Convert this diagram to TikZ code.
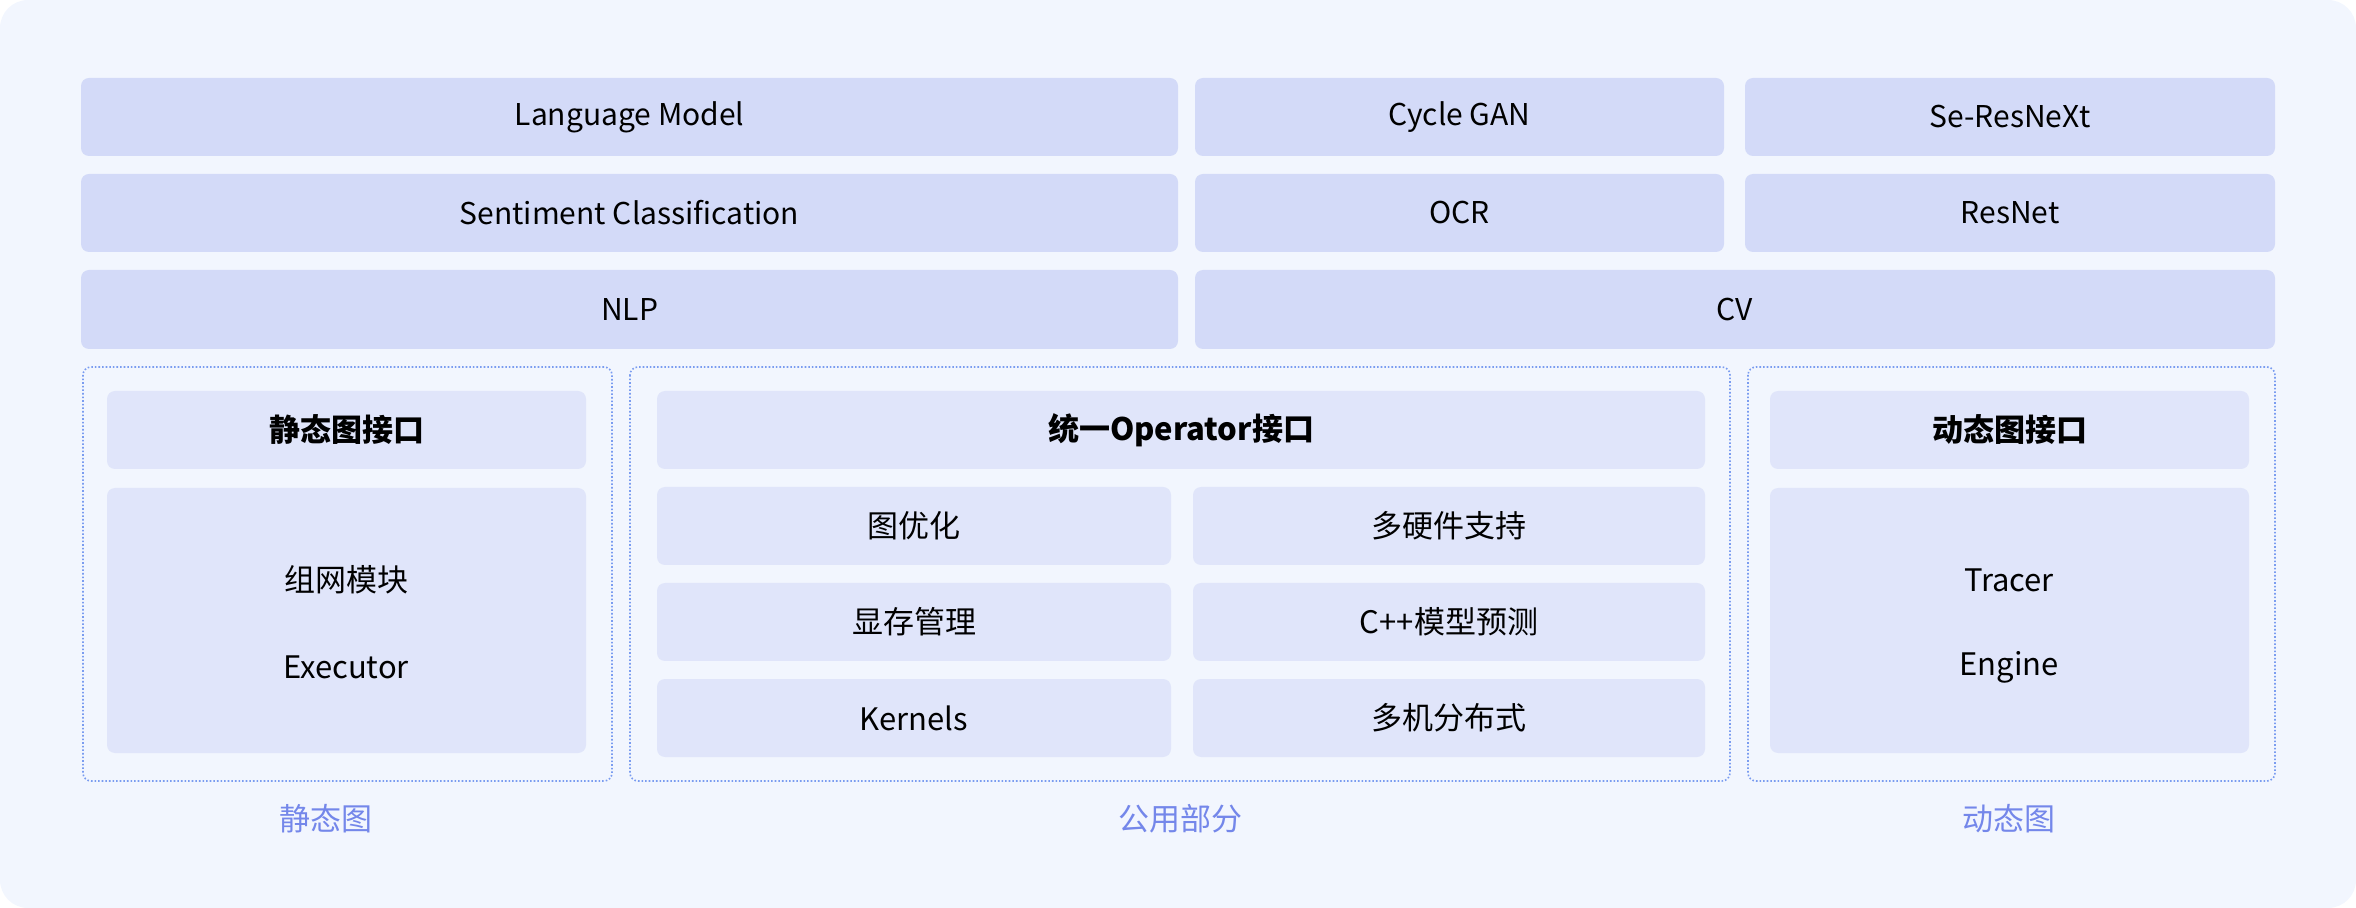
\documentclass[tikz,border=0pt]{standalone}
\usepackage{fontspec}
\setmainfont{Noto Sans CJK SC}
\begin{document}
\begin{tikzpicture}[x=0.5pt,y=-0.5pt,
  top/.style={fill=topc,rounded corners=4pt,font=\fontsize{15}{18}\selectfont},
  inner/.style={fill=innc,rounded corners=4pt,font=\fontsize{15.5}{18}\selectfont},
  hdr/.style={inner,font=\fontsize{15.5}{18}\selectfont\bfseries},
  grp/.style={draw=dotc,densely dotted,line width=0.8pt,rounded corners=4pt},
  lab/.style={text=labc,font=\fontsize{15.5}{18}\selectfont}]
\definecolor{bgc}{HTML}{F2F6FE}
\definecolor{topc}{HTML}{D3DAF8}
\definecolor{innc}{HTML}{E0E5FA}
\definecolor{dotc}{HTML}{7A9CF0}
\definecolor{labc}{HTML}{7487EA}
\useasboundingbox (0,0) rectangle (2356,908);
\fill[bgc,rounded corners=14pt] (0,0) rectangle (2356,908);
% top rows
\path[top] (81,78) rectangle (1178,156) node[midway] (lm) {Language Model};
\path[top] (1195,78) rectangle (1724,156) node[midway] (cg) {Cycle GAN};
\path[top] (1745,78) rectangle (2275,156) node[midway] (se) {Se-ResNeXt};
\path[top] (81,174) rectangle (1178,252) node[midway] (sc) {Sentiment Classification};
\path[top] (1195,174) rectangle (1724,252) node[midway] (ocr) {OCR};
\path[top] (1745,174) rectangle (2275,252) node[midway] (rn) {ResNet};
\path[top] (81,270) rectangle (1178,349) node[midway] (nlp) {NLP};
\path[top] (1195,270) rectangle (2275,349) node[midway] (cv) {CV};
% groups
\path[grp] (83,367) rectangle (612,781) node[midway] (g1) {};
\path[grp] (630,367) rectangle (1730,781) node[midway] (g2) {};
\path[grp] (1748,367) rectangle (2275,781) node[midway] (g3) {};
% left
\path[hdr] (107,391) rectangle (586,469) node[midway] (sh) {静态图接口};
\path[inner] (107,488) rectangle (586,753) node[midway] (sb) {};
\node[font=\fontsize{15.5}{18}\selectfont] (zw) at (346,580) {组网模块};
\node[font=\fontsize{15.5}{18}\selectfont] (ex) at (346,667) {Executor};
% middle
\path[hdr] (657,391) rectangle (1705,469) node[midway] (oh) {统一Operator接口};
\path[inner] (657,487) rectangle (1171,565) node[midway] (a1) {图优化};
\path[inner] (1193,487) rectangle (1705,565) node[midway] (a2) {多硬件支持};
\path[inner] (657,583) rectangle (1171,661) node[midway] (b1) {显存管理};
\path[inner] (1193,583) rectangle (1705,661) node[midway] (b2) {C++模型预测};
\path[inner] (657,679) rectangle (1171,757) node[midway] (c1) {Kernels};
\path[inner] (1193,679) rectangle (1705,757) node[midway] (c2) {多机分布式};
% right
\path[hdr] (1770,391) rectangle (2249,469) node[midway] (dh) {动态图接口};
\path[inner] (1770,488) rectangle (2249,753) node[midway] (db) {};
\node[font=\fontsize{15.5}{18}\selectfont] (tr) at (2009,580) {Tracer};
\node[font=\fontsize{15.5}{18}\selectfont] (en) at (2009,667) {Engine};
% labels
\node[lab] (l1) at (326,819) {静态图};
\node[lab] (l2) at (1180,819) {公用部分};
\node[lab] (l3) at (2009,819) {动态图};
\end{tikzpicture}
\end{document}
